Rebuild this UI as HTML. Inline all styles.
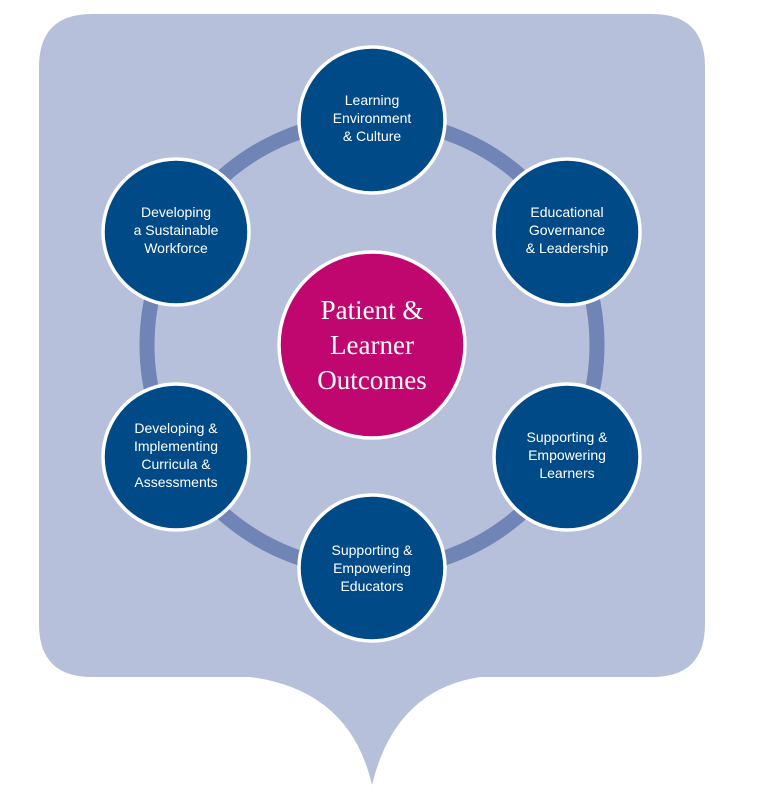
<!DOCTYPE html>
<html><head><style>html,body{margin:0;padding:0;background:#fff;}</style></head>
<body>
<svg width="768" height="803" viewBox="0 0 768 803" xmlns="http://www.w3.org/2000/svg">
<path d="M92 14 H652 Q705 14 705 67 V624 Q705 677 652 677 H480 Q395 690 372 785 Q350 690 250 677 H92 Q39 677 39 624 V67 Q39 14 92 14 Z" fill="#b7c0db"/>
<circle cx="372" cy="345" r="225" fill="none" stroke="#7084b5" stroke-width="15"/>
<g fill="#004a87" stroke="#fff" stroke-width="3.5">
<circle cx="372" cy="120" r="73"/>
<circle cx="567" cy="232" r="73"/>
<circle cx="567" cy="457" r="73"/>
<circle cx="372" cy="568" r="73"/>
<circle cx="176" cy="457" r="73"/>
<circle cx="176" cy="232" r="73"/>
<circle cx="372" cy="345" r="93" fill="#c0076f"/>
</g>
<g fill="#fff" font-family="Liberation Sans, sans-serif" font-size="14" text-anchor="middle">
<text x="372" y="105">Learning</text><text x="372" y="123">Environment</text><text x="372" y="141">&amp; Culture</text>
<text x="567" y="217">Educational</text><text x="567" y="235">Governance</text><text x="567" y="253">&amp; Leadership</text>
<text x="567" y="442">Supporting &amp;</text><text x="567" y="460">Empowering</text><text x="567" y="478">Learners</text>
<text x="372" y="555">Supporting &amp;</text><text x="372" y="573">Empowering</text><text x="372" y="591">Educators</text>
<text x="176" y="433">Developing &amp;</text><text x="176" y="451">Implementing</text><text x="176" y="469">Curricula &amp;</text><text x="176" y="487">Assessments</text>
<text x="176" y="217">Developing</text><text x="176" y="235">a Sustainable</text><text x="176" y="253">Workforce</text>
</g>
<g fill="#fff" font-family="Liberation Serif, serif" font-size="27" text-anchor="middle">
<text x="372" y="319">Patient &amp;</text><text x="372" y="354">Learner</text><text x="372" y="389">Outcomes</text>
</g>
</svg>
</body></html>
